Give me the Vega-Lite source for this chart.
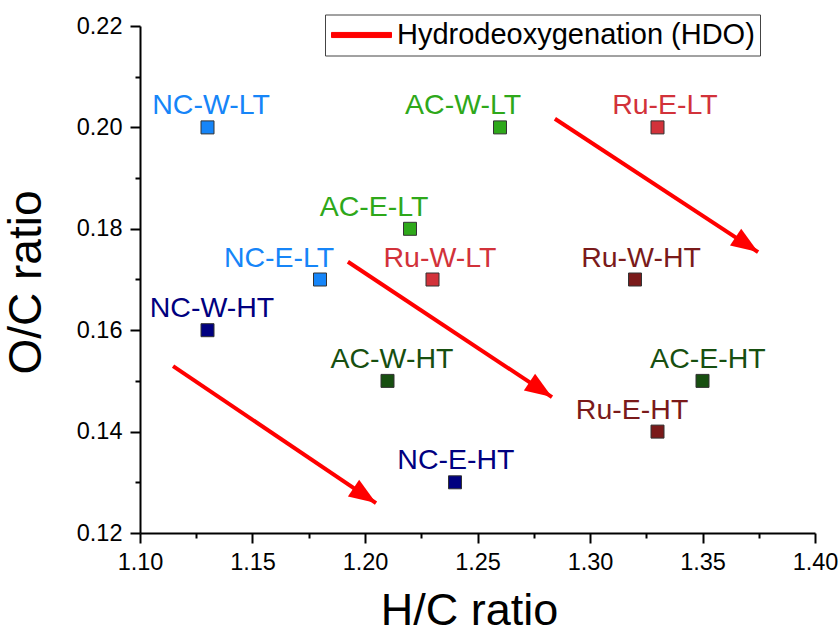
{
  "$schema": "https://vega.github.io/schema/vega-lite/v6.json",
  "width": 675,
  "height": 507,
  "autosize": {"type": "none"},
  "padding": {"left": 140, "top": 26, "right": 25, "bottom": 95},
  "background": "white",
  "config": {
    "font": "Liberation Sans",
    "view": {"stroke": null},
    "axis": {"grid": false, "labelColor": "black", "tickColor": "black", "domainColor": "black", "titleColor": "black", "titleFontWeight": "normal", "labelFlush": false, "labelOverlap": false}
  },
  "datasets": {
    "samples": [
      {"sample": "NC-W-LT", "hc": 1.13, "oc": 0.20, "group": "NC-LT", "label_hc": 1.1316},
      {"sample": "AC-W-LT", "hc": 1.26, "oc": 0.20, "group": "AC-LT", "label_hc": 1.2436},
      {"sample": "Ru-E-LT", "hc": 1.33, "oc": 0.20, "group": "Ru-LT", "label_hc": 1.3333},
      {"sample": "AC-E-LT", "hc": 1.22, "oc": 0.18, "group": "AC-LT", "label_hc": 1.204},
      {"sample": "NC-E-LT", "hc": 1.18, "oc": 0.17, "group": "NC-LT", "label_hc": 1.1618},
      {"sample": "Ru-W-LT", "hc": 1.23, "oc": 0.17, "group": "Ru-LT", "label_hc": 1.2333},
      {"sample": "Ru-W-HT", "hc": 1.32, "oc": 0.17, "group": "Ru-HT", "label_hc": 1.3227},
      {"sample": "NC-W-HT", "hc": 1.13, "oc": 0.16, "group": "NC-HT", "label_hc": 1.132},
      {"sample": "AC-W-HT", "hc": 1.21, "oc": 0.15, "group": "AC-HT", "label_hc": 1.212},
      {"sample": "AC-E-HT", "hc": 1.35, "oc": 0.15, "group": "AC-HT", "label_hc": 1.3524},
      {"sample": "Ru-E-HT", "hc": 1.33, "oc": 0.14, "group": "Ru-HT", "label_hc": 1.3187},
      {"sample": "NC-E-HT", "hc": 1.24, "oc": 0.13, "group": "NC-HT", "label_hc": 1.2404}
    ],
    "arrows": [
      {"x1": 1.1147, "y1": 0.1529, "x2": 1.2049, "y2": 0.1259, "process": "Hydrodeoxygenation (HDO)"},
      {"x1": 1.1924, "y1": 0.1735, "x2": 1.2831, "y2": 0.1468, "process": "Hydrodeoxygenation (HDO)"},
      {"x1": 1.2844, "y1": 0.2017, "x2": 1.3747, "y2": 0.1754, "process": "Hydrodeoxygenation (HDO)"}
    ]
  },
  "layer": [
    {
      "data": {"name": "arrows"},
      "mark": {"type": "rule", "strokeWidth": 4},
      "encoding": {
        "x": {"field": "x1", "type": "quantitative", "scale": {"domain": [1.10, 1.40], "nice": false, "zero": false},
          "axis": {"values": [1.10, 1.125, 1.15, 1.175, 1.20, 1.225, 1.25, 1.275, 1.30, 1.325, 1.35, 1.375, 1.40],
            "labelExpr": "abs(datum.value * 20 - round(datum.value * 20)) < 0.001 ? format(datum.value, '.2f') : ''",
            "tickSize": {"condition": {"test": "abs(datum.value * 20 - round(datum.value * 20)) < 0.001", "value": 10}, "value": 5},
            "title": "H/C ratio",
            "titleFontSize": 45, "titleX": 329, "titleY": 91, "titleBaseline": "alphabetic", "titleAlign": "center",
            "labelFontSize": 23.5, "tickWidth": 2, "domainWidth": 2, "labelPadding": 7}},
        "y": {"field": "y1", "type": "quantitative", "scale": {"domain": [0.12, 0.22], "nice": false, "zero": false},
          "axis": {"values": [0.12, 0.13, 0.14, 0.15, 0.16, 0.17, 0.18, 0.19, 0.20, 0.21, 0.22],
            "labelExpr": "abs(datum.value * 50 - round(datum.value * 50)) < 0.001 ? format(datum.value, '.2f') : ''",
            "tickSize": {"condition": {"test": "abs(datum.value * 50 - round(datum.value * 50)) < 0.001", "value": 10}, "value": 5},
            "title": "O/C ratio",
            "titleFontSize": 46, "titleX": -100, "titleY": 256, "titleBaseline": "alphabetic", "titleAlign": "center", "titleAngle": -90,
            "labelFontSize": 23.5, "tickWidth": 2, "domainWidth": 2, "labelPadding": 8}},
        "x2": {"field": "x2"},
        "y2": {"field": "y2"},
        "stroke": {"field": "process", "type": "nominal", "scale": {"range": ["#ff0000"]},
          "legend": {"title": null, "orient": "none", "legendX": 185, "legendY": -11.5, "padding": 5,
            "fillColor": "white", "strokeColor": "#444", "labelFontSize": 29, "labelColor": "black", "labelOffset": 20, "labelLimit": 0,
            "symbolType": "M-2,-0.17L2,-0.17L2,0.17L-2,0.17Z", "symbolSize": 900, "symbolStrokeWidth": 1, "symbolOffset": 16,
            "encode": {"symbols": {"update": {"fill": {"value": "#ff0000"}, "stroke": {"value": "#555555"}, "strokeWidth": {"value": 1}}}}}}
      }
    },
    {
      "data": {"name": "arrows"},
      "mark": {"type": "point", "shape": "M-2,-0.75L0,0L-2,0.75Z", "size": 729, "angle": 33.6, "filled": true, "fill": "#ff0000", "opacity": 1, "strokeWidth": 0},
      "encoding": {
        "x": {"field": "x2", "type": "quantitative"},
        "y": {"field": "y2", "type": "quantitative"}
      }
    },
    {
      "data": {"name": "samples"},
      "mark": {"type": "square", "size": 169, "stroke": "#333333", "strokeWidth": 1, "opacity": 1},
      "encoding": {
        "x": {"field": "hc", "type": "quantitative"},
        "y": {"field": "oc", "type": "quantitative"},
        "fill": {"field": "group", "type": "nominal", "legend": null,
          "scale": {"domain": ["NC-LT", "NC-HT", "AC-LT", "AC-HT", "Ru-LT", "Ru-HT"],
            "range": ["#1685f8", "#000080", "#2ea81a", "#174f10", "#d2323a", "#7a1a1a"]}}
      }
    },
    {
      "data": {"name": "samples"},
      "mark": {"type": "text", "fontSize": 28.5, "dy": -13, "baseline": "alphabetic", "align": "center"},
      "encoding": {
        "x": {"field": "label_hc", "type": "quantitative"},
        "y": {"field": "oc", "type": "quantitative"},
        "text": {"field": "sample"},
        "fill": {"field": "group", "type": "nominal", "legend": null}
      }
    }
  ]
}
